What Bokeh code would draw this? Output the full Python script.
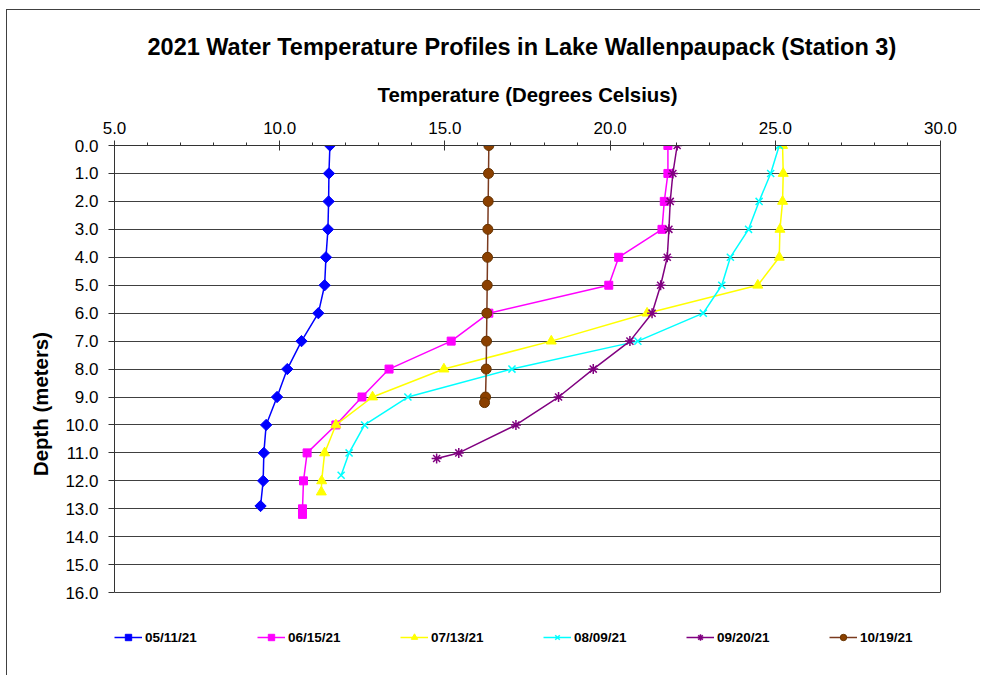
import numpy as np
from bokeh.plotting import figure
from bokeh.models import Range1d, Legend, LegendItem, PrintfTickFormatter, FixedTicker, LinearAxis
from bokeh.embed import file_html
from bokeh.resources import INLINE

# ---- data ----
labels = ["05/11/21", "06/15/21", "07/13/21", "08/09/21", "09/20/21", "10/19/21"]

depth_0511 = [0, 1, 2, 3, 4, 5, 6, 7, 8, 9, 10, 11, 12, 12.9]
temp_0511 = [11.52, 11.49, 11.48, 11.46, 11.40, 11.36, 11.17, 10.66, 10.23, 9.92, 9.59, 9.52, 9.50, 9.42]

depth_0615 = [0, 1, 2, 3, 4, 5, 6, 7, 8, 9, 10, 11, 12, 13.0, 13.2]
temp_0615 = [21.75, 21.75, 21.64, 21.57, 20.26, 19.96, 16.33, 15.19, 13.31, 12.49, 11.70, 10.83, 10.72, 10.69, 10.69]

depth_0713 = [0, 1, 2, 3, 4, 5, 6, 7, 8, 9, 10, 11, 12, 12.4]
temp_0713 = [25.22, 25.24, 25.22, 25.14, 25.12, 24.47, 21.12, 18.22, 14.97, 12.81, 11.70, 11.36, 11.27, 11.26]

depth_0809 = [0, 1, 2, 3, 4, 5, 6, 7, 8, 9, 10, 11, 11.8]
temp_0809 = [25.12, 24.86, 24.51, 24.19, 23.64, 23.38, 22.82, 20.84, 17.03, 13.88, 12.57, 12.10, 11.86]

depth_0920 = [0, 1, 2, 3, 4, 5, 6, 7, 8, 9, 10, 11, 11.2]
temp_0920 = [22.03, 21.90, 21.82, 21.78, 21.73, 21.53, 21.27, 20.60, 19.49, 18.44, 17.15, 15.42, 14.75]

depth_1019 = [0, 1, 2, 3, 4, 5, 6, 7, 8, 9, 9.2]
temp_1019 = [16.33, 16.32, 16.31, 16.30, 16.29, 16.28, 16.27, 16.26, 16.25, 16.23, 16.20]

x_major = [5, 10, 15, 20, 25, 30]
x_minor = list(range(5, 31))
y_major = list(range(0, 17))
y_axis_max = 16

FONT = "Liberation Sans"
GRID = "#404040"

# frame extends below the 16 m line to hold the legend (area below 16 m is left blank)
p = figure(width=974, height=666,
           x_range=Range1d(5, 30), y_range=Range1d(18.5, 0),
           x_axis_location="above",
           output_backend="svg", toolbar_location=None,
           min_border_left=107, min_border_right=41,
           min_border_top=135, min_border_bottom=14)

p.styles = {"margin-left": "6px", "margin-top": "9px",
            "border-top": "1px solid #404040", "border-left": "1px solid #404040"}

p.title.text = "2021 Water Temperature Profiles in Lake Wallenpaupack (Station 3)"
p.title.align = "left"
p.title.offset = 33
p.title.text_font = FONT
p.title.text_font_size = "23.5px"
p.title.text_font_style = "bold"
p.title.text_color = "black"
p.title.standoff = 41

xa = p.xaxis[0]
xa.axis_label = "Temperature (Degrees Celsius)"
xa.ticker = FixedTicker(ticks=x_major, minor_ticks=x_minor)
xa.formatter = PrintfTickFormatter(format="%.1f")
xa.major_tick_in = 5
xa.major_tick_out = 5
xa.minor_tick_in = 0
xa.minor_tick_out = 3
xa.major_label_standoff = 7
xa.axis_label_standoff = 13

ya = p.yaxis[0]
ya.axis_label = "Depth (meters)"
ya.bounds = (0, y_axis_max)
ya.ticker = FixedTicker(ticks=y_major, minor_ticks=[])
ya.formatter = PrintfTickFormatter(format="%.1f")
ya.major_tick_in = 0
ya.major_tick_out = 6
ya.minor_tick_in = 0
ya.minor_tick_out = 0
ya.major_label_standoff = 10
ya.axis_label_standoff = 10

for ax in (xa, ya):
    ax.axis_line_color = "#333333"
    ax.major_tick_line_color = "#333333"
    ax.minor_tick_line_color = "#333333"
    ax.major_label_text_font = FONT
    ax.major_label_text_font_size = "17px"
    ax.major_label_text_color = "black"
    ax.axis_label_text_font = FONT
    ax.axis_label_text_font_size = "20.4px"
    ax.axis_label_text_font_style = "bold"
    ax.axis_label_text_color = "black"

# right edge of the plot box
ra = LinearAxis(bounds=(0, y_axis_max), ticker=FixedTicker(ticks=[], minor_ticks=[]),
                major_tick_line_color=None, minor_tick_line_color=None,
                major_label_text_font_size="0px", axis_line_color=GRID)
p.add_layout(ra, "right")

p.xgrid.visible = False
p.ygrid.grid_line_color = GRID
p.ygrid.grid_line_width = 1
p.outline_line_color = None

series = [
    (temp_0511, depth_0511, "#0000FF", dict(marker="square", angle=np.pi / 4, size=8, fill_color="#0000FF", line_color="#0000FF")),
    (temp_0615, depth_0615, "#FF00FF", dict(marker="square", size=8, fill_color="#FF00FF", line_color="#FF00FF")),
    (temp_0713, depth_0713, "#FFFF00", dict(marker="triangle", size=10, fill_color="#FFFF00", line_color="#FFFF00")),
    (temp_0809, depth_0809, "#00FFFF", dict(marker="x", size=10, line_color="#00FFFF", line_width=1.5)),
    (temp_0920, depth_0920, "#800080", dict(marker="asterisk", size=10, line_color="#800080", line_width=1.5)),
    (temp_1019, depth_1019, "#7A3A1E", dict(marker="circle", size=10, fill_color="#8B4000", line_color="#663300")),
]

items = []
for (tx, dy, col, mk), lab in zip(series, labels):
    r_line = p.line(tx, dy, line_color=col, line_width=1.5)
    r_mark = p.scatter(tx, dy, **mk)
    items.append(LegendItem(label=lab, renderers=[r_line, r_mark]))

legend = Legend(items=items, orientation="horizontal", location=(0, 17),
                glyph_width=28, glyph_height=16, label_standoff=3,
                label_width=112, spacing=0, padding=0, margin=0,
                border_line_alpha=0, background_fill_alpha=0,
                label_text_font=FONT, label_text_font_size="13.5px",
                label_text_font_style="bold", label_text_color="black")
p.add_layout(legend)

open("out.html", "w").write(file_html(p, INLINE))
